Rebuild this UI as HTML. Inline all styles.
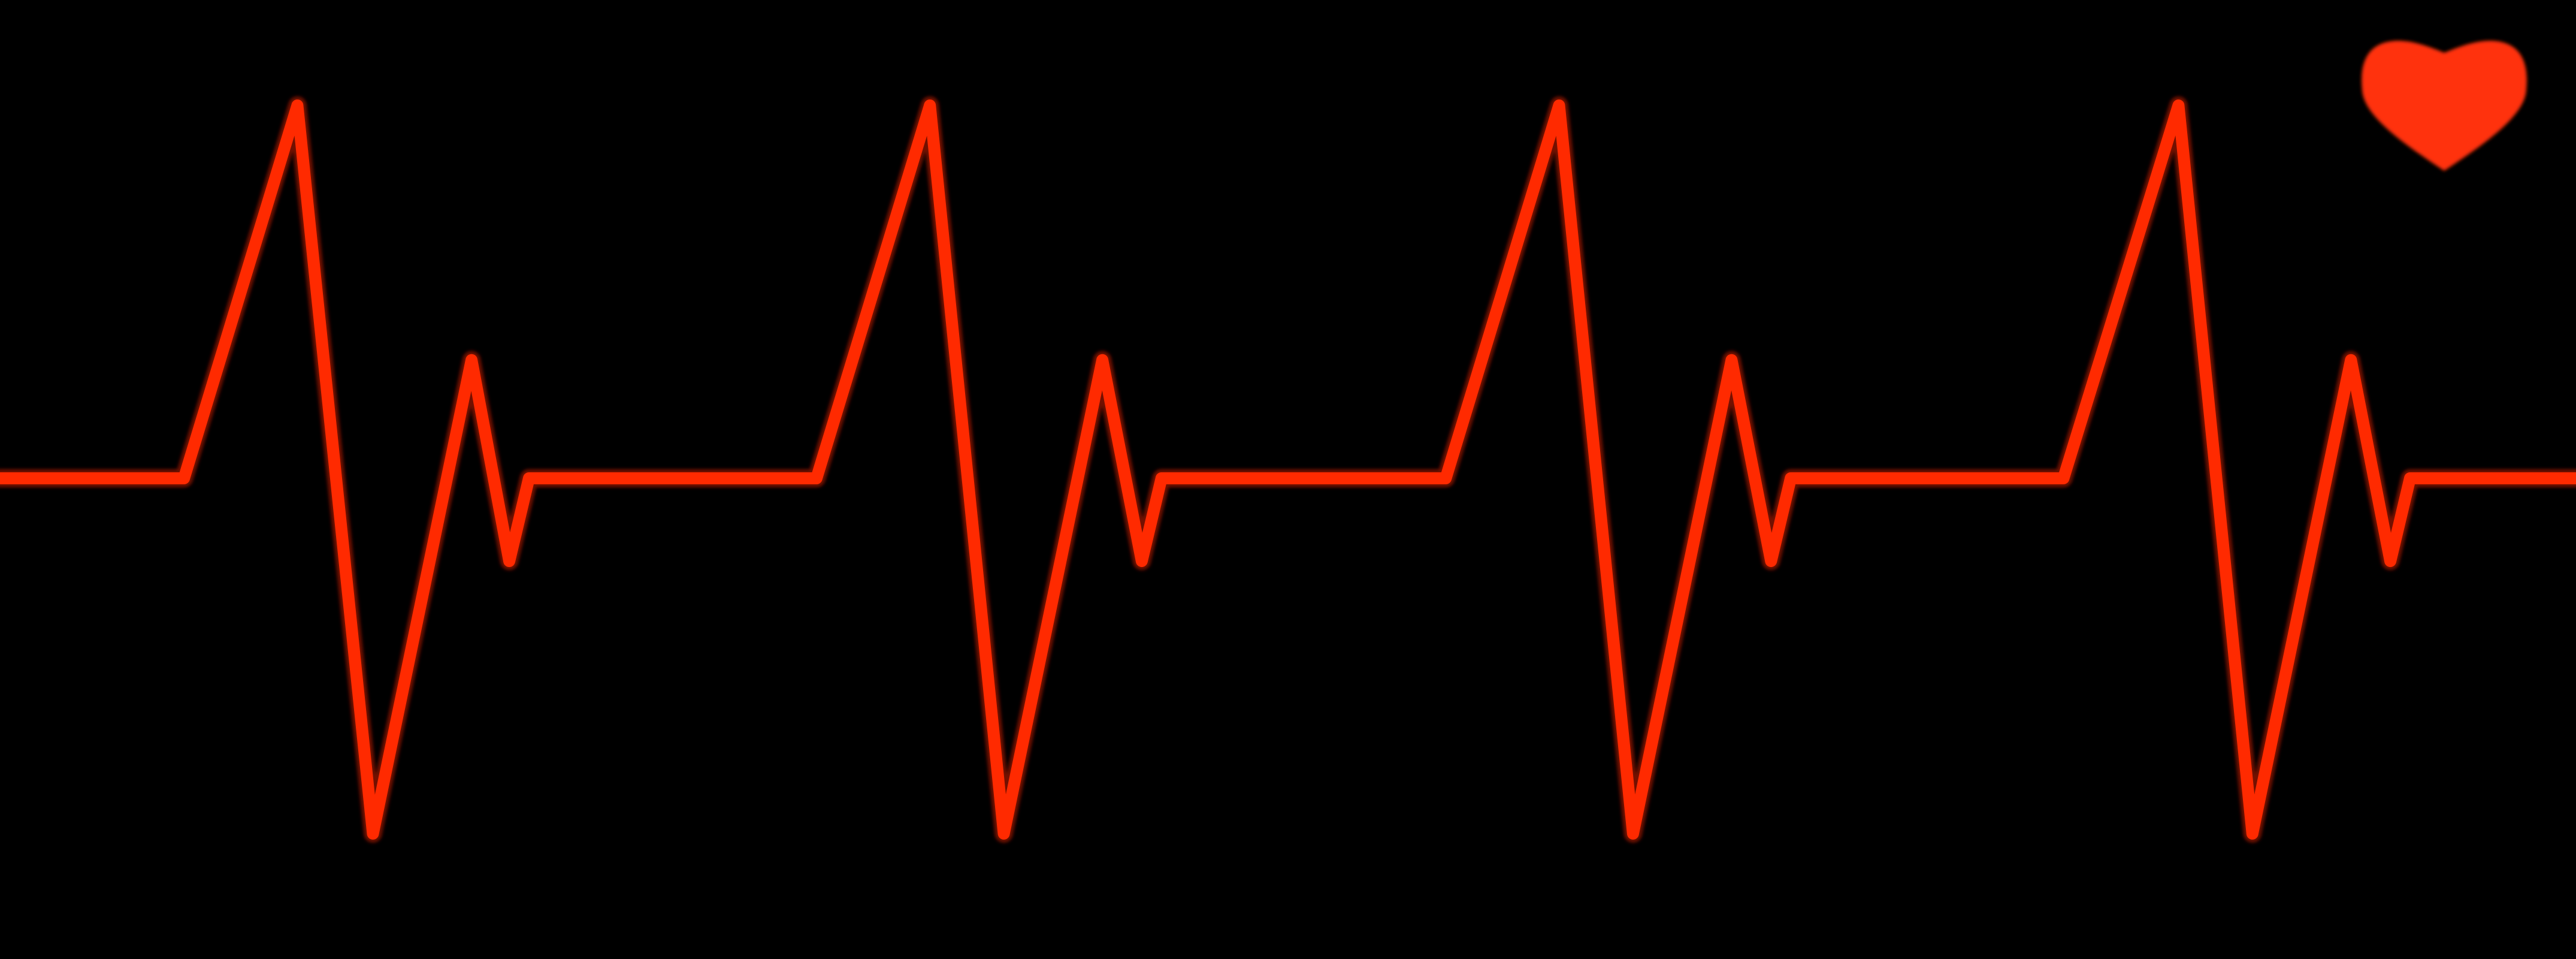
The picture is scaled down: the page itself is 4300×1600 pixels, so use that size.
<!DOCTYPE html>
<html>
<head>
<meta charset="utf-8">
<style>
html,body{margin:0;padding:0;background:#000;}
body{width:4300px;height:1600px;overflow:hidden;}
svg{display:block;}
</style>
</head>
<body>
<svg id="chart" width="4300" height="1600" viewBox="0 0 4300 1600" xmlns="http://www.w3.org/2000/svg">
  <defs>
    <filter id="glow" x="-5%" y="-5%" width="110%" height="110%">
      <feGaussianBlur stdDeviation="3"/>
    </filter>
  </defs>
  <rect x="0" y="0" width="4300" height="1600" fill="#000"/>
  <g id="plot"></g>
  <path filter="url(#glow)" fill="#ff3008"
    d="M4080,285 C4020,245 3945,195 3943,150 C3938,100 3955,70 4000,68 C4030,67 4060,80 4080,88 C4100,80 4130,67 4160,68 C4205,70 4222,100 4217,150 C4215,195 4140,245 4080,285 Z"/>
</svg>
<script>
// ECG trace data (time units, voltage units)
const times    = [0,112,181,227,287,310,322, 497,566,611,671,695,707, 880,949,994,1054,1078,1090, 1256,1326,1371,1431,1455,1467, 1568];
const voltages = [0,0,1,-0.953,0.317,-0.222,0, 0,1,-0.953,0.317,-0.222,0, 0,1,-0.953,0.317,-0.222,0, 0,1,-0.953,0.317,-0.222,0, 0];

const W = 4300, H = 1600;
const tMax = 1568;
const xScale = t => t * W / tMax;
const baseY = 798, vUnit = 622;
const yScale = v => baseY - v * vUnit;

const plot = document.getElementById('plot');
const NS = 'http://www.w3.org/2000/svg';
let d = '';
for (let i = 0; i < times.length; i++) {
  d += (i === 0 ? 'M' : 'L') + xScale(times[i]).toFixed(1) + ',' + yScale(voltages[i]).toFixed(1) + ' ';
}
const glow = document.createElementNS(NS, 'path');


glow.setAttribute('d', d);
glow.setAttribute('fill', 'none');
glow.setAttribute('stroke', '#ff2200');
glow.setAttribute('stroke-width', '30');
glow.setAttribute('stroke-opacity', '0.45');
glow.setAttribute('stroke-linejoin', 'round');
glow.setAttribute('stroke-linecap', 'round');
glow.setAttribute('filter', 'url(#glow)');
plot.appendChild(glow);

const line = document.createElementNS(NS, 'path');


line.setAttribute('d', d);
line.setAttribute('fill', 'none');
line.setAttribute('stroke', '#ff2a00');
line.setAttribute('stroke-width', '20');
line.setAttribute('stroke-linejoin', 'round');
line.setAttribute('stroke-linecap', 'round');
plot.appendChild(line);
</script>
</body>
</html>
